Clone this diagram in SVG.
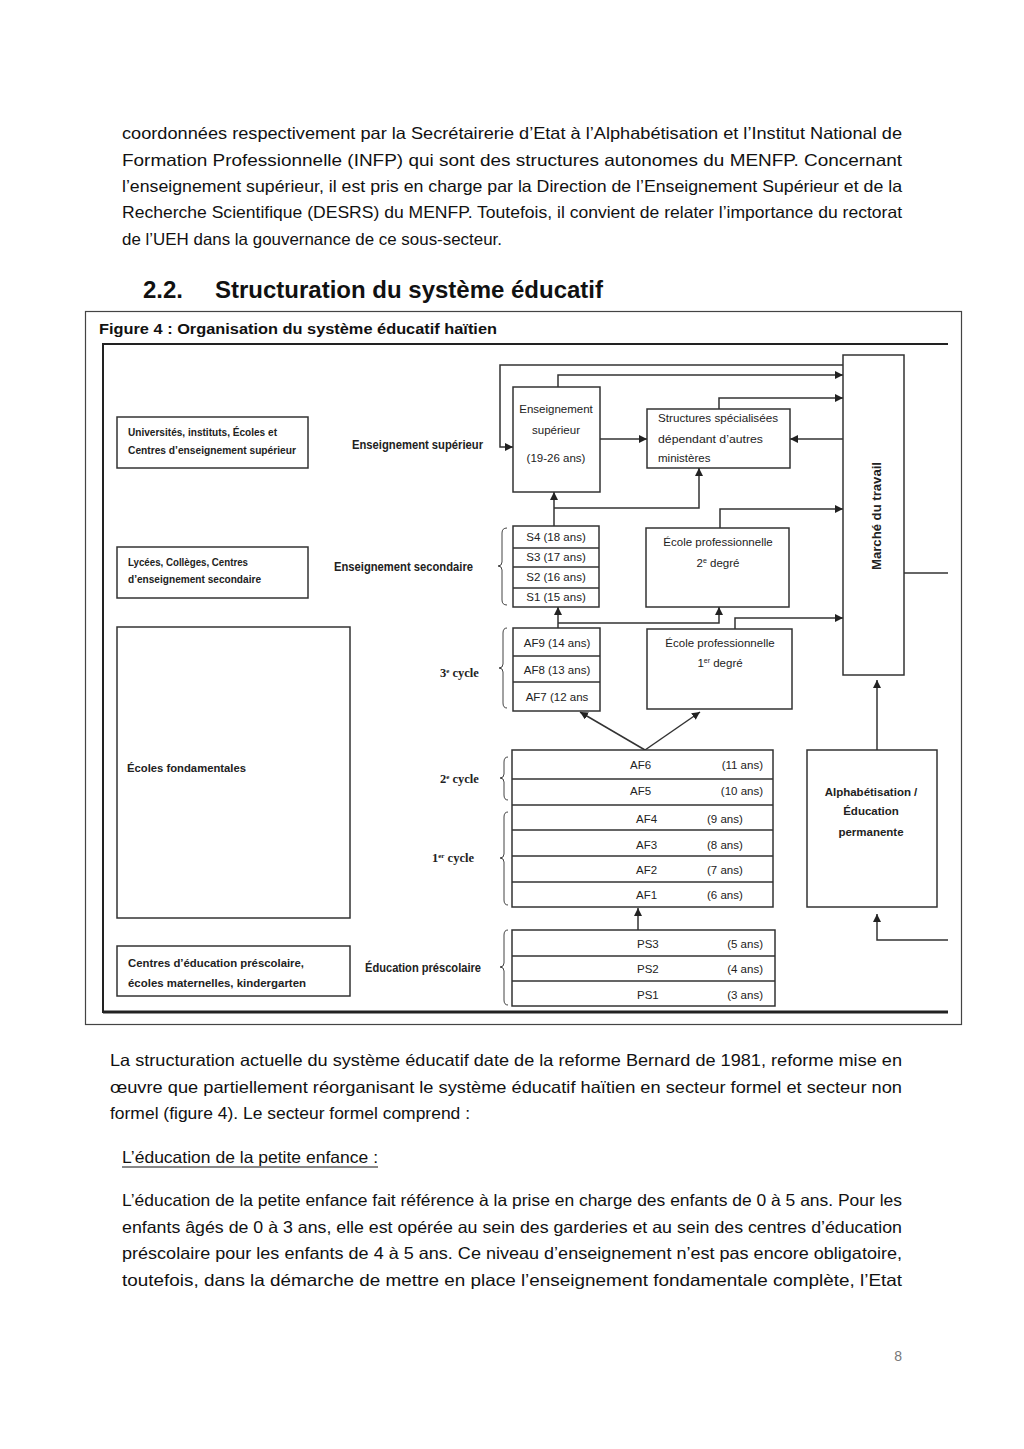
<svg xmlns="http://www.w3.org/2000/svg" width="1024" height="1449" viewBox="0 0 1024 1449">
<defs>
<style>
.body{font-family:"Liberation Sans",Arial,sans-serif;font-size:16.5px;fill:#111}
.h{font-family:"Liberation Sans",Arial,sans-serif;font-size:24px;font-weight:bold;fill:#111}
.cap{font-family:"Liberation Sans",Arial,sans-serif;font-size:14.5px;font-weight:bold;fill:#111}
.t{font-family:"Liberation Sans",Arial,sans-serif;font-size:11.5px;fill:#222}
.tb{font-family:"Liberation Sans",Arial,sans-serif;font-size:11.5px;font-weight:bold;fill:#222}
.lb{font-family:"Liberation Sans",Arial,sans-serif;font-size:12.5px;font-weight:bold;fill:#222}
.sr{font-family:"Liberation Serif","Times New Roman",serif;font-size:12.5px;font-weight:bold;fill:#222}
.box{fill:#fff;stroke:#333;stroke-width:1.5}
.ln{fill:none;stroke:#333;stroke-width:1.5}
.br{fill:none;stroke:#444;stroke-width:1}
.con{fill:none;stroke:#333;stroke-width:1.5}
.ar{fill:none;stroke:#333;stroke-width:1.5;marker-end:url(#ah)}
</style>
<marker id="ah" markerUnits="userSpaceOnUse" markerWidth="9" markerHeight="8" refX="8" refY="4" orient="auto">
<path d="M0,0 L8,4 L0,8 Z" fill="#222"/>
</marker>
</defs>
<rect width="1024" height="1449" fill="#fff"/>

<g id="page-text-top">
<text class="body" x="122" y="139" textLength="780" lengthAdjust="spacingAndGlyphs">coordonnées respectivement par la Secrétairerie d’Etat à l’Alphabétisation et l’Institut National de</text>
<text class="body" x="122" y="166" textLength="780" lengthAdjust="spacingAndGlyphs">Formation  Professionnelle  (INFP)  qui  sont  des  structures  autonomes  du  MENFP.  Concernant</text>
<text class="body" x="122" y="192" textLength="780" lengthAdjust="spacingAndGlyphs">l’enseignement supérieur, il est pris en charge par la Direction de l’Enseignement Supérieur et de la</text>
<text class="body" x="122" y="218" textLength="780" lengthAdjust="spacingAndGlyphs">Recherche Scientifique (DESRS) du MENFP. Toutefois, il convient de relater l’importance du rectorat</text>
<text class="body" x="122" y="245" textLength="380" lengthAdjust="spacingAndGlyphs">de l’UEH dans la gouvernance de ce sous-secteur.</text>
<text class="h" x="143" y="298">2.2.</text>
<text class="h" x="215" y="298" textLength="388" lengthAdjust="spacingAndGlyphs">Structuration du système éducatif</text>
</g>

<g id="figure-frame">
<rect x="85.5" y="311.5" width="876" height="713" fill="none" stroke="#444" stroke-width="1.2"/>
<text class="cap" x="99" y="334" textLength="398" lengthAdjust="spacingAndGlyphs">Figure 4 : Organisation du système éducatif haïtien</text>
<path d="M103,1013 V344 H948" fill="none" stroke="#222" stroke-width="2"/>
<path d="M103,1012 H948" fill="none" stroke="#222" stroke-width="3"/>
</g>

<g id="connectors">
<path class="ar" d="M843,365 H500 V447 H513"/>
<path class="ar" d="M558,387 V375 H843"/>
<path class="ar" d="M719,409 V398 H843"/>
<path class="ar" d="M600,439 H647"/>
<path class="ar" d="M843,439 H790"/>
<path class="ar" d="M554,526 V492"/>
<path class="ar" d="M554,508 H699 V468"/>
<path class="ar" d="M720,528 V509 H843"/>
<path class="ar" d="M558,628 V607"/>
<path class="ar" d="M558,623 H719 V607"/>
<path class="ar" d="M735,629 V618 H843"/>
<path class="ar" d="M877,750 V680"/>
<path class="ar" d="M948,940 H877 V914"/>
<path class="ar" d="M645,750 L580,712"/>
<path class="ar" d="M645,750 L700,712"/>
<path class="ar" d="M638,930 V908"/>
<path class="con" d="M904,573 H948"/>
</g>

<g id="left-universites">
<rect class="box" x="117" y="417" width="191" height="51"/>
<text class="tb" x="128" y="436" textLength="149" lengthAdjust="spacingAndGlyphs">Universités, instituts, Écoles et</text>
<text class="tb" x="128" y="454" textLength="168" lengthAdjust="spacingAndGlyphs">Centres d’enseignement supérieur</text>
</g>
<g id="label-sup"><text class="lb" x="352" y="449" textLength="131" lengthAdjust="spacingAndGlyphs">Enseignement supérieur</text></g>

<g id="left-lycees">
<rect class="box" x="117" y="547" width="191" height="51"/>
<text class="tb" x="128" y="566" textLength="120" lengthAdjust="spacingAndGlyphs">Lycées, Collèges, Centres</text>
<text class="tb" x="128" y="583" textLength="133" lengthAdjust="spacingAndGlyphs">d’enseignement secondaire</text>
</g>
<g id="label-sec"><text class="lb" x="334" y="571" textLength="139" lengthAdjust="spacingAndGlyphs">Enseignement secondaire</text></g>

<g id="left-fondamentales">
<rect class="box" x="117" y="627" width="233" height="291"/>
<text class="tb" x="127" y="772" textLength="119" lengthAdjust="spacingAndGlyphs">Écoles fondamentales</text>
</g>

<g id="left-prescolaire">
<rect class="box" x="117" y="946" width="233" height="50"/>
<text class="tb" x="128" y="967" textLength="176" lengthAdjust="spacingAndGlyphs">Centres d’éducation préscolaire,</text>
<text class="tb" x="128" y="987" textLength="178" lengthAdjust="spacingAndGlyphs">écoles maternelles, kindergarten</text>
</g>
<g id="label-presc"><text class="lb" x="365" y="972" textLength="116" lengthAdjust="spacingAndGlyphs">Éducation préscolaire</text></g>

<g id="labels-cycles">
<text class="sr" x="440" y="677">3<tspan font-size="7" dy="-4">e</tspan><tspan dy="4"> cycle</tspan></text>
<text class="sr" x="440" y="783">2<tspan font-size="7" dy="-4">e</tspan><tspan dy="4"> cycle</tspan></text>
<text class="sr" x="432" y="862">1<tspan font-size="7" dy="-4">er</tspan><tspan dy="4"> cycle</tspan></text>
</g>

<g id="brackets">
<path class="br" d="M507,528 Q502,528 502,533 V562 Q502,566 498,566 Q502,566 502,570 V600 Q502,605 507,605"/>
<path class="br" d="M507,628 Q503,628 503,633 V664 Q503,668 499,668 Q503,668 503,672 V703 Q503,708 507,708"/>
<path class="br" d="M508,757 Q504,757 504,762 V774 Q504,778 500,778 Q504,778 504,782 V795 Q504,800 508,800"/>
<path class="br" d="M508,812 Q504,812 504,817 V854 Q504,858 500,858 Q504,858 504,862 V900 Q504,905 508,905"/>
<path class="br" d="M508,930 Q504,930 504,935 V963 Q504,967 500,967 Q504,967 504,971 V1000 Q504,1005 508,1005"/>
</g>

<g id="ens-sup">
<rect class="box" x="513" y="387" width="87" height="105"/>
<text class="t" x="556" y="413" text-anchor="middle">Enseignement</text>
<text class="t" x="556" y="434" text-anchor="middle">supérieur</text>
<text class="t" x="556" y="462" text-anchor="middle">(19-26 ans)</text>
</g>

<g id="structures">
<rect class="box" x="647" y="409" width="143" height="59"/>
<text class="t" x="658" y="422" textLength="120" lengthAdjust="spacingAndGlyphs">Structures spécialisées</text>
<text class="t" x="658" y="443" textLength="105" lengthAdjust="spacingAndGlyphs">dépendant d’autres</text>
<text class="t" x="658" y="462">ministères</text>
</g>

<g id="marche">
<rect class="box" x="843" y="355" width="61" height="320"/>
<text class="lb" transform="translate(881,516) rotate(-90)" text-anchor="middle" textLength="108" lengthAdjust="spacingAndGlyphs">Marché du travail</text>
</g>

<g id="secondaire">
<rect class="box" x="513" y="526" width="86" height="81"/>
<path class="ln" d="M513,548 H599 M513,567 H599 M513,588 H599"/>
<text class="t" x="556" y="541" text-anchor="middle">S4 (18 ans)</text>
<text class="t" x="556" y="561" text-anchor="middle">S3 (17 ans)</text>
<text class="t" x="556" y="581" text-anchor="middle">S2 (16 ans)</text>
<text class="t" x="556" y="601" text-anchor="middle">S1 (15 ans)</text>
</g>

<g id="ecole-pro-2">
<rect class="box" x="646" y="528" width="143" height="79"/>
<text class="t" x="718" y="546" text-anchor="middle">École professionnelle</text>
<text class="t" x="718" y="567" text-anchor="middle">2<tspan font-size="7" dy="-4">e</tspan><tspan dy="4"> degré</tspan></text>
</g>

<g id="troisieme-cycle">
<rect class="box" x="513" y="628" width="87" height="83"/>
<path class="ln" d="M513,656 H600 M513,682 H600"/>
<text class="t" x="557" y="647" text-anchor="middle">AF9 (14 ans)</text>
<text class="t" x="557" y="674" text-anchor="middle">AF8 (13 ans)</text>
<text class="t" x="557" y="701" text-anchor="middle">AF7 (12 ans</text>
</g>

<g id="ecole-pro-1">
<rect class="box" x="647" y="629" width="145" height="80"/>
<text class="t" x="720" y="647" text-anchor="middle">École professionnelle</text>
<text class="t" x="720" y="667" text-anchor="middle">1<tspan font-size="7" dy="-4">er</tspan><tspan dy="4"> degré</tspan></text>
</g>

<g id="fondamental-1-2">
<rect class="box" x="512" y="750" width="261" height="157"/>
<path class="ln" d="M512,779 H773 M512,805 H773 M512,830 H773 M512,856 H773 M512,882 H773"/>
<text class="t" x="630" y="769">AF6</text><text class="t" x="763" y="769" text-anchor="end">(11 ans)</text>
<text class="t" x="630" y="795">AF5</text><text class="t" x="763" y="795" text-anchor="end">(10 ans)</text>
<text class="t" x="636" y="823">AF4</text><text class="t" x="707" y="823">(9 ans)</text>
<text class="t" x="636" y="849">AF3</text><text class="t" x="707" y="849">(8 ans)</text>
<text class="t" x="636" y="874">AF2</text><text class="t" x="707" y="874">(7 ans)</text>
<text class="t" x="636" y="899">AF1</text><text class="t" x="707" y="899">(6 ans)</text>
</g>

<g id="alpha">
<rect class="box" x="807" y="750" width="130" height="157"/>
<text class="tb" x="871" y="796" text-anchor="middle">Alphabétisation /</text>
<text class="tb" x="871" y="815" text-anchor="middle">Éducation</text>
<text class="tb" x="871" y="836" text-anchor="middle">permanente</text>
</g>

<g id="prescolaire">
<rect class="box" x="512" y="930" width="263" height="76"/>
<path class="ln" d="M512,956 H775 M512,981 H775"/>
<text class="t" x="637" y="948">PS3</text><text class="t" x="763" y="948" text-anchor="end">(5 ans)</text>
<text class="t" x="637" y="973">PS2</text><text class="t" x="763" y="973" text-anchor="end">(4 ans)</text>
<text class="t" x="637" y="999">PS1</text><text class="t" x="763" y="999" text-anchor="end">(3 ans)</text>
</g>

<g id="page-text-bottom">
<text class="body" x="110" y="1066" textLength="792" lengthAdjust="spacingAndGlyphs">La structuration actuelle du système éducatif date de la reforme Bernard de 1981, reforme mise en</text>
<text class="body" x="110" y="1093" textLength="792" lengthAdjust="spacingAndGlyphs">œuvre que partiellement réorganisant le système éducatif haïtien en secteur formel et secteur non</text>
<text class="body" x="110" y="1119" textLength="360" lengthAdjust="spacingAndGlyphs">formel (figure 4). Le secteur formel comprend :</text>
<text class="body" x="122" y="1163" textLength="256" lengthAdjust="spacingAndGlyphs">L’éducation de la petite enfance :</text>
<path d="M122,1167 H378" stroke="#111" stroke-width="1"/>
<text class="body" x="122" y="1206" textLength="780" lengthAdjust="spacingAndGlyphs">L’éducation de la petite enfance fait référence à la prise en charge des enfants de 0 à 5 ans. Pour les</text>
<text class="body" x="122" y="1233" textLength="780" lengthAdjust="spacingAndGlyphs">enfants âgés de 0 à 3 ans, elle est opérée au sein des garderies et au sein des centres d’éducation</text>
<text class="body" x="122" y="1259" textLength="780" lengthAdjust="spacingAndGlyphs">préscolaire pour les enfants de 4 à 5 ans. Ce niveau d’enseignement n’est pas encore obligatoire,</text>
<text class="body" x="122" y="1286" textLength="780" lengthAdjust="spacingAndGlyphs">toutefois, dans la démarche de mettre en place l’enseignement fondamentale complète, l’Etat</text>
<text class="body" x="902" y="1361" text-anchor="end" style="fill:#777;font-size:14px">8</text>
</g>
</svg>
